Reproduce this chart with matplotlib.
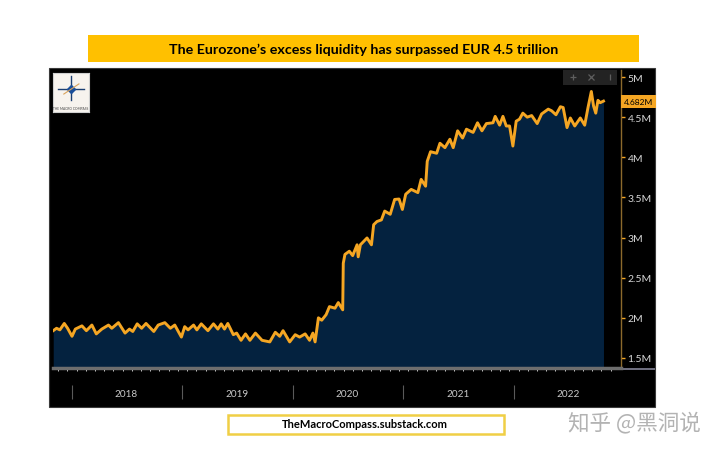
import matplotlib
matplotlib.use("Agg")
import matplotlib.pyplot as plt
import numpy as np
from matplotlib.patches import Rectangle
from matplotlib.transforms import blended_transform_factory

# Decimal year and excess liquidity, in the chart's "M" axis units
dates = [
    2017.83, 2017.86, 2017.89, 2017.93, 2017.96, 2018.00, 2018.03, 2018.09, 2018.13, 2018.18,
    2018.22, 2018.27, 2018.33, 2018.36, 2018.42, 2018.48, 2018.52, 2018.55, 2018.59, 2018.63,
    2018.67, 2018.74, 2018.78, 2018.84, 2018.89, 2018.93, 2018.99, 2019.02, 2019.05, 2019.10,
    2019.13, 2019.17, 2019.23, 2019.28, 2019.32, 2019.35, 2019.38, 2019.41, 2019.46, 2019.49,
    2019.53, 2019.57, 2019.61, 2019.66, 2019.72, 2019.79, 2019.84, 2019.88, 2019.91, 2019.97,
    2020.02, 2020.06, 2020.11, 2020.15, 2020.18, 2020.20, 2020.23, 2020.26, 2020.30, 2020.33,
    2020.38, 2020.41, 2020.45, 2020.455, 2020.47, 2020.51, 2020.54, 2020.58, 2020.59, 2020.61,
    2020.67, 2020.71, 2020.73, 2020.76, 2020.80, 2020.83, 2020.88, 2020.92, 2020.96, 2020.99,
    2021.02, 2021.07, 2021.13, 2021.16, 2021.20, 2021.215, 2021.245, 2021.30, 2021.33, 2021.375,
    2021.42, 2021.45, 2021.49, 2021.535, 2021.57, 2021.63, 2021.67, 2021.71, 2021.75, 2021.81,
    2021.83, 2021.87, 2021.90, 2021.93, 2021.96, 2021.99, 2022.02, 2022.05, 2022.08, 2022.12,
    2022.16, 2022.21, 2022.25, 2022.31, 2022.34, 2022.38, 2022.42, 2022.445, 2022.48, 2022.51,
    2022.55, 2022.60, 2022.64, 2022.67, 2022.70, 2022.72, 2022.74, 2022.76, 2022.78, 2022.81,
]
liquidity = [
    1.84, 1.87, 1.85, 1.93, 1.87, 1.77, 1.86, 1.90, 1.84, 1.91,
    1.80, 1.86, 1.91, 1.87, 1.94, 1.81, 1.86, 1.83, 1.925, 1.87,
    1.93, 1.83, 1.91, 1.94, 1.87, 1.91, 1.76, 1.89, 1.85, 1.91,
    1.85, 1.925, 1.84, 1.925, 1.86, 1.925, 1.86, 1.93, 1.79, 1.81,
    1.72, 1.80, 1.72, 1.81, 1.72, 1.70, 1.82, 1.77, 1.84, 1.70,
    1.79, 1.76, 1.80, 1.72, 1.81, 1.70, 2.00, 1.97, 2.04, 2.14,
    2.12, 2.19, 2.10, 2.68, 2.79, 2.83, 2.775, 2.91, 2.76, 2.91,
    2.995, 2.91, 3.16, 3.20, 3.22, 3.33, 3.29, 3.475, 3.48, 3.35,
    3.54, 3.60, 3.56, 3.725, 3.64, 3.95, 4.07, 4.05, 4.175, 4.12,
    4.225, 4.12, 4.33, 4.24, 4.35, 4.31, 4.43, 4.33, 4.42, 4.43,
    4.51, 4.40, 4.51, 4.39, 4.39, 4.14, 4.45, 4.475, 4.55, 4.50,
    4.52, 4.42, 4.54, 4.60, 4.58, 4.53, 4.63, 4.62, 4.37, 4.49,
    4.39, 4.49, 4.40, 4.62, 4.82, 4.64, 4.55, 4.71, 4.68, 4.70,
]
y_ticks = [1.5, 2, 2.5, 3, 3.5, 4, 4.5, 5]
y_labels = ["1.5M", "2M", "2.5M", "3M", "3.5M", "4M", "4.5M", "5M"]
years = [2018, 2019, 2020, 2021, 2022]
last_value = 4.682

W, H = 720, 452
plt.rcParams["font.family"] = ["Lato", "DejaVu Sans"]

fig = plt.figure(figsize=(7.2, 4.52), dpi=100, facecolor="white")


def axes_px(left, top, right, bottom, **kw):
    return fig.add_axes(
        [left / W, 1 - bottom / H, (right - left) / W, (bottom - top) / H], **kw
    )


# page level layer, in pixels with y going down
bg = fig.add_axes([0, 0, 1, 1])
bg.set_xlim(0, W)
bg.set_ylim(H, 0)
bg.axis("off")

bg.add_patch(Rectangle((88, 36), 551, 27, fc="#FFC000", ec="none"))
bg.text(364, 49.5, "The Eurozone\u2019s excess liquidity has surpassed EUR 4.5 trillion",
        ha="center", va="center", fontsize=10.3, fontweight="bold", color="black")

bg.add_patch(Rectangle((49, 69), 606, 339, fc="black", ec="#3a3a3a", lw=0.8))
bg.add_patch(Rectangle((620, 369), 35, 2, fc="#6E6E7E", ec="none", zorder=3))

bg.add_patch(Rectangle((227.5, 415.5), 276, 19, fc="white", ec="#F0CF45", lw=1.8))
bg.text(365, 425, "TheMacroCompass.substack.com", ha="center", va="center",
        fontsize=8.0, fontweight="bold", color="black")

bg.text(634.5, 423.5, "知乎 @黑洞说", ha="center", va="center", fontsize=15.5,
        color="#9a9a9a", alpha=0.75, family=["Noto Sans CJK SC", "DejaVu Sans"])

# main chart
ax = axes_px(53, 71, 620.5, 369, zorder=2)
ax.set_facecolor("black")
ax.set_xlim(2017.828, 2022.964)
ax.set_ylim(1.375, 5.0875)
ax.fill_between(dates, liquidity, 1.375, color="#04223F", lw=0)
ax.plot(dates, liquidity, color="#F5A623", lw=2.1, solid_joinstyle="round")

for side in ["top", "left"]:
    ax.spines[side].set_visible(False)
ax.spines["right"].set_color("#8C6A2C")
ax.spines["right"].set_linewidth(1.0)
ax.spines["bottom"].set_color("#6E6E6E")
ax.spines["bottom"].set_linewidth(2.5)

ax.yaxis.tick_right()
ax.set_yticks(y_ticks)
ax.set_yticklabels(y_labels)
ax.tick_params(axis="y", colors="#F5A623", length=3, width=1, pad=2, labelsize=7.5,
               labelcolor="#D8D8D8")

# month ticks along the bottom, year labels centred between dividers
ax.set_xticks(np.arange(2017.875, 2022.9, 1 / 12), minor=True)
ax.tick_params(axis="x", which="minor", colors="#D0D0D0", length=2.5, width=0.7)
ax.set_xticks([y + 0.49 for y in years])
ax.set_xticklabels([str(y) for y in years])
ax.tick_params(axis="x", which="major", length=0, pad=15, labelsize=7.2, labelcolor="#C8C8C8")

trans = blended_transform_factory(ax.transData, bg.transData)
ax.vlines(years, 386, 400, transform=trans, color="#5A5A5A", lw=0.8, clip_on=False)

# last value tag
ax.annotate(f"{last_value:.3f}M", xy=(1, 4.69), xycoords=("axes fraction", "data"),
            xytext=(2.2, 0), textcoords="offset points", va="center", ha="left",
            fontsize=6.0, color="black", annotation_clip=False,
            bbox=dict(boxstyle="square,pad=0.35", fc="#F5A623", ec="none"))

# chart toolbar
ax.add_patch(Rectangle((563, 71), 54, 15, transform=bg.transData, fc="#232323", ec="none",
                       clip_on=False, zorder=3))
for px, mark in zip([573, 591, 610], ["+", "x", "|"]):
    ax.plot([px], [78], marker=mark, ms=4.5, mew=0.9, color="#5E5E5E", transform=bg.transData,
            clip_on=False, zorder=4)

# logo
logo = axes_px(53, 74, 89, 113, zorder=3)
logo.set_xlim(0, 1)
logo.set_ylim(0, 1)
logo.set_xticks([])
logo.set_yticks([])
logo.set_facecolor("#F7F3EE")
for side in logo.spines.values():
    side.set_color("#CFCFCF")
logo.plot([0.5, 0.5], [0.3, 0.92], color="#1B3F73", lw=1.0)
logo.plot([0.14, 0.86], [0.6, 0.6], color="#1B3F73", lw=1.0)
logo.plot([0.5], [0.6], marker="D", ms=4.5, color="#1B4F9A")
logo.plot([0.3, 0.72], [0.46, 0.72], color="#D9A35C", lw=0.8)
logo.text(0.5, 0.1, "THE MACRO COMPASS", ha="center", va="center", fontsize=2.3, color="#444444")

fig.savefig("out.png", dpi=100, facecolor="white")
